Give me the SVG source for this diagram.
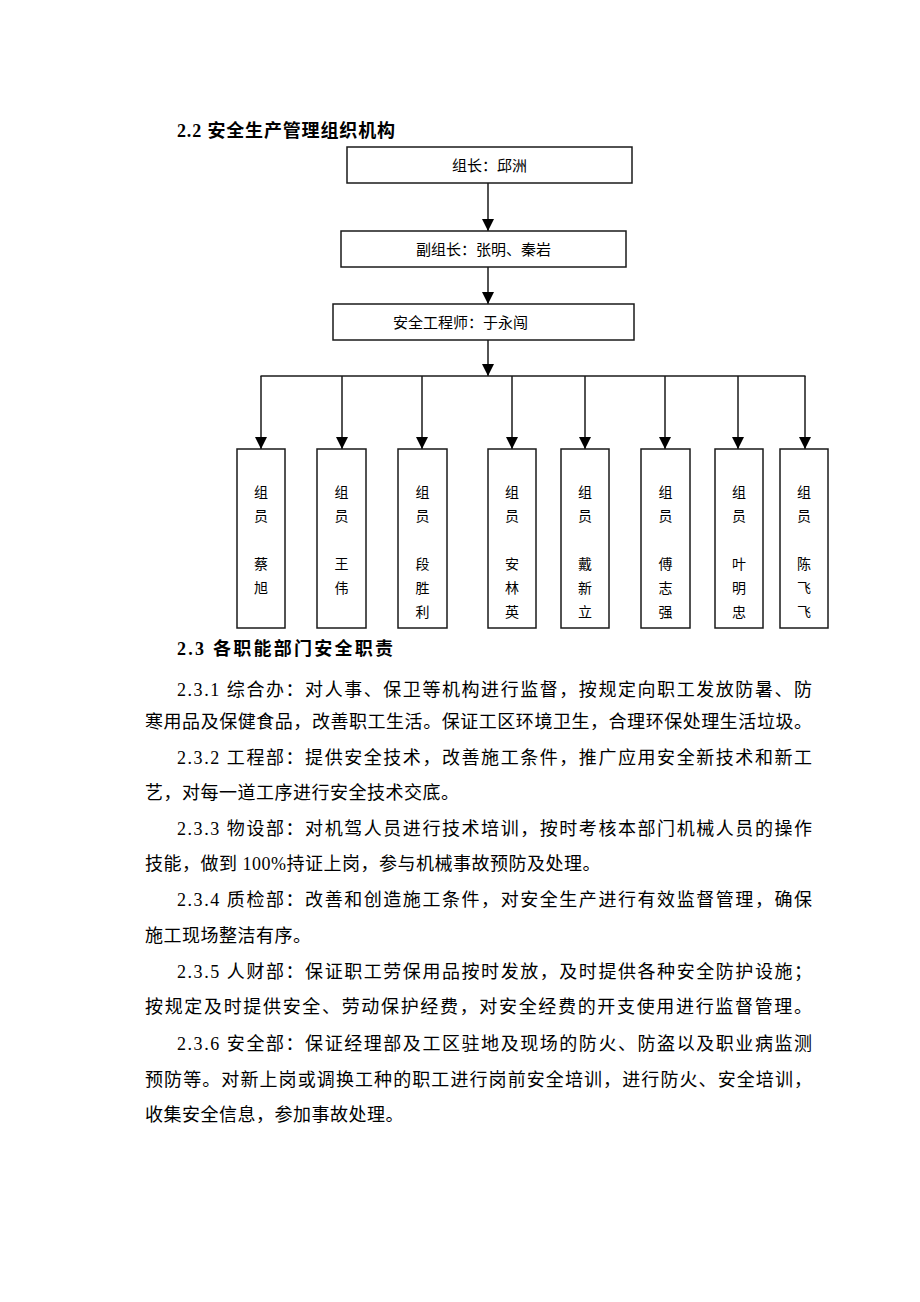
<svg xmlns="http://www.w3.org/2000/svg" width="920" height="1302" viewBox="0 0 920 1302">
<style>
.t{font-family:"Liberation Serif","Noto Sans CJK SC",serif;fill:#000}
.h{font-size:18px;font-weight:bold}
.b{font-size:18px}
.n{font-size:15px}
.m{font-size:14px;text-anchor:middle}
.box{fill:#fff;stroke:#1a1a1a;stroke-width:1.5}
.ln{stroke:#1a1a1a;stroke-width:1.5;fill:none}
</style>
<defs>
<marker id="ar" markerUnits="userSpaceOnUse" markerWidth="12" markerHeight="12" viewBox="0 0 12 12" refX="12" refY="6" orient="auto">
<path d="M0,0 L12,6 L0,12 Z" fill="#000"/>
</marker>
</defs>
<rect width="920" height="1302" fill="#fff"/>
<text class="t h" x="177" y="137" textLength="218" lengthAdjust="spacing">2.2 安全生产管理组织机构</text>

<g id="connectors">
<line class="ln" x1="488" y1="183" x2="488" y2="231" marker-end="url(#ar)"/>
<line class="ln" x1="488" y1="267" x2="488" y2="304" marker-end="url(#ar)"/>
<line class="ln" x1="488" y1="340" x2="488" y2="376" marker-end="url(#ar)"/>
<line class="ln" x1="260.5" y1="376" x2="805.5" y2="376"/>
<line class="ln" x1="261" y1="376" x2="261" y2="449" marker-end="url(#ar)"/>
<line class="ln" x1="342" y1="376" x2="342" y2="449" marker-end="url(#ar)"/>
<line class="ln" x1="422" y1="376" x2="422" y2="449" marker-end="url(#ar)"/>
<line class="ln" x1="512" y1="376" x2="512" y2="449" marker-end="url(#ar)"/>
<line class="ln" x1="585" y1="376" x2="585" y2="449" marker-end="url(#ar)"/>
<line class="ln" x1="665" y1="376" x2="665" y2="449" marker-end="url(#ar)"/>
<line class="ln" x1="738" y1="376" x2="738" y2="449" marker-end="url(#ar)"/>
<line class="ln" x1="805" y1="376" x2="805" y2="449" marker-end="url(#ar)"/>
</g>

<g id="leader">
<rect class="box" x="347" y="147" width="285" height="36"/>
<text class="t n" x="452" y="171">组长：邱洲</text>
</g>
<g id="deputy">
<rect class="box" x="341" y="231" width="285" height="36"/>
<text class="t n" x="416" y="255">副组长：张明、秦岩</text>
</g>
<g id="engineer">
<rect class="box" x="333" y="304" width="301" height="36"/>
<text class="t n" x="393" y="328">安全工程师：于永闯</text>
</g>

<g id="m1"><rect class="box" x="237" y="449" width="48" height="179"/>
<text class="t m" x="261" y="497">组</text><text class="t m" x="261" y="521">员</text><text class="t m" x="261" y="569">蔡</text><text class="t m" x="261" y="593">旭</text></g>
<g id="m2"><rect class="box" x="317" y="449" width="49" height="179"/>
<text class="t m" x="341.5" y="497">组</text><text class="t m" x="341.5" y="521">员</text><text class="t m" x="341.5" y="569">王</text><text class="t m" x="341.5" y="593">伟</text></g>
<g id="m3"><rect class="box" x="398" y="449" width="49" height="179"/>
<text class="t m" x="422.5" y="497">组</text><text class="t m" x="422.5" y="521">员</text><text class="t m" x="422.5" y="569">段</text><text class="t m" x="422.5" y="593">胜</text><text class="t m" x="422.5" y="617">利</text></g>
<g id="m4"><rect class="box" x="488" y="449" width="48" height="179"/>
<text class="t m" x="512" y="497">组</text><text class="t m" x="512" y="521">员</text><text class="t m" x="512" y="569">安</text><text class="t m" x="512" y="593">林</text><text class="t m" x="512" y="617">英</text></g>
<g id="m5"><rect class="box" x="561" y="449" width="48" height="179"/>
<text class="t m" x="585" y="497">组</text><text class="t m" x="585" y="521">员</text><text class="t m" x="585" y="569">戴</text><text class="t m" x="585" y="593">新</text><text class="t m" x="585" y="617">立</text></g>
<g id="m6"><rect class="box" x="641" y="449" width="49" height="179"/>
<text class="t m" x="665.5" y="497">组</text><text class="t m" x="665.5" y="521">员</text><text class="t m" x="665.5" y="569">傅</text><text class="t m" x="665.5" y="593">志</text><text class="t m" x="665.5" y="617">强</text></g>
<g id="m7"><rect class="box" x="715" y="449" width="48" height="179"/>
<text class="t m" x="739" y="497">组</text><text class="t m" x="739" y="521">员</text><text class="t m" x="739" y="569">叶</text><text class="t m" x="739" y="593">明</text><text class="t m" x="739" y="617">忠</text></g>
<g id="m8"><rect class="box" x="780" y="449" width="48" height="179"/>
<text class="t m" x="804" y="497">组</text><text class="t m" x="804" y="521">员</text><text class="t m" x="804" y="569">陈</text><text class="t m" x="804" y="593">飞</text><text class="t m" x="804" y="617">飞</text></g>

<g id="body">
<text class="t h" x="177" y="655" textLength="216" lengthAdjust="spacing">2.3 各职能部门安全职责</text>
<text class="t b" x="177" y="696" textLength="635" lengthAdjust="spacing">2.3.1 综合办：对人事、保卫等机构进行监督，按规定向职工发放防暑、防</text>
<text class="t b" x="145" y="728" textLength="667" lengthAdjust="spacing">寒用品及保健食品，改善职工生活。保证工区环境卫生，合理环保处理生活垃圾。</text>
<text class="t b" x="177" y="764" textLength="635" lengthAdjust="spacing">2.3.2 工程部：提供安全技术，改善施工条件，推广应用安全新技术和新工</text>
<text class="t b" x="145" y="799" letter-spacing="0.5">艺，对每一道工序进行安全技术交底。</text>
<text class="t b" x="177" y="835" textLength="635" lengthAdjust="spacing">2.3.3 物设部：对机驾人员进行技术培训，按时考核本部门机械人员的操作</text>
<text class="t b" x="145" y="870" letter-spacing="0.5">技能，做到 100%持证上岗，参与机械事故预防及处理。</text>
<text class="t b" x="177" y="906" textLength="635" lengthAdjust="spacing">2.3.4 质检部：改善和创造施工条件，对安全生产进行有效监督管理，确保</text>
<text class="t b" x="145" y="942" letter-spacing="0.5">施工现场整洁有序。</text>
<text class="t b" x="177" y="978" textLength="635" lengthAdjust="spacing">2.3.5 人财部：保证职工劳保用品按时发放，及时提供各种安全防护设施；</text>
<text class="t b" x="145" y="1013" textLength="667" lengthAdjust="spacing">按规定及时提供安全、劳动保护经费，对安全经费的开支使用进行监督管理。</text>
<text class="t b" x="177" y="1050" textLength="635" lengthAdjust="spacing">2.3.6 安全部：保证经理部及工区驻地及现场的防火、防盗以及职业病监测</text>
<text class="t b" x="145" y="1086" textLength="667" lengthAdjust="spacing">预防等。对新上岗或调换工种的职工进行岗前安全培训，进行防火、安全培训，</text>
<text class="t b" x="145" y="1121" letter-spacing="0.5">收集安全信息，参加事故处理。</text>
</g>
</svg>
